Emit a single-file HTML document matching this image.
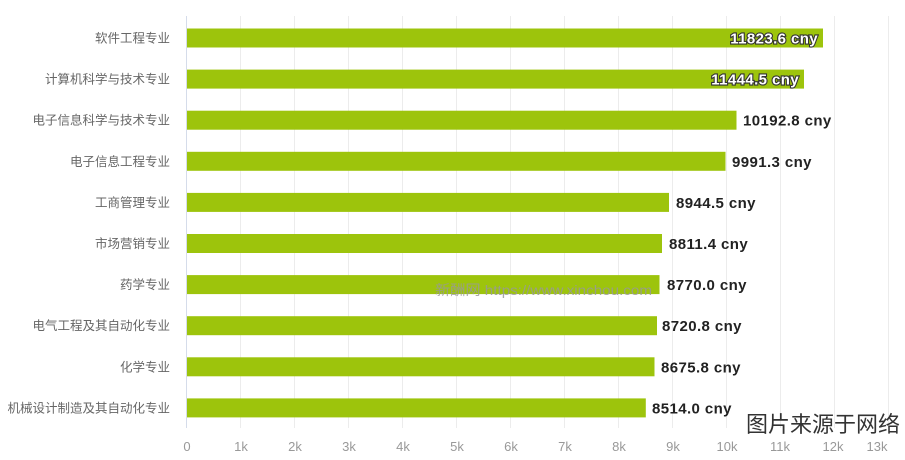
<!DOCTYPE html>
<html><head><meta charset="utf-8"><style>
html,body{margin:0;padding:0;background:#fff;}
svg{display:block;}
text{font-family:"Liberation Sans","Noto Sans CJK SC",sans-serif;}
</style></head><body>
<svg width="905" height="460" viewBox="0 0 905 460" xmlns="http://www.w3.org/2000/svg">
<rect width="905" height="460" fill="#fff"/>
<g stroke="#ececec" stroke-width="1">
<line x1="240.5" y1="16" x2="240.5" y2="428"/>
<line x1="294.5" y1="16" x2="294.5" y2="428"/>
<line x1="348.5" y1="16" x2="348.5" y2="428"/>
<line x1="402.5" y1="16" x2="402.5" y2="428"/>
<line x1="456.5" y1="16" x2="456.5" y2="428"/>
<line x1="510.5" y1="16" x2="510.5" y2="428"/>
<line x1="564.5" y1="16" x2="564.5" y2="428"/>
<line x1="618.5" y1="16" x2="618.5" y2="428"/>
<line x1="672.5" y1="16" x2="672.5" y2="428"/>
<line x1="726.5" y1="16" x2="726.5" y2="428"/>
<line x1="780.5" y1="16" x2="780.5" y2="428"/>
<line x1="834.5" y1="16" x2="834.5" y2="428"/>
<line x1="888.5" y1="16" x2="888.5" y2="428"/>
</g>
<line x1="186.5" y1="16" x2="186.5" y2="428" stroke="#d5dcea" stroke-width="1"/>
<g fill="#9dc40c">
<rect x="187" y="28.5" width="636" height="19"/>
<rect x="187" y="69.6" width="617" height="19"/>
<rect x="187" y="110.7" width="549.5" height="19"/>
<rect x="187" y="151.8" width="538.5" height="19"/>
<rect x="187" y="192.9" width="482" height="19"/>
<rect x="187" y="234" width="475" height="19"/>
<rect x="187" y="275.1" width="472.5" height="19"/>
<rect x="187" y="316.2" width="470" height="19"/>
<rect x="187" y="357.3" width="467.5" height="19"/>
<rect x="187" y="398.4" width="458.8" height="19"/>
</g>
<g font-size="12.5" fill="#666" text-anchor="end">
<text x="170" y="42.5">软件工程专业</text>
<text x="170" y="83.6">计算机科学与技术专业</text>
<text x="170" y="124.7">电子信息科学与技术专业</text>
<text x="170" y="165.8">电子信息工程专业</text>
<text x="170" y="206.9">工商管理专业</text>
<text x="170" y="248">市场营销专业</text>
<text x="170" y="289.1">药学专业</text>
<text x="170" y="330.2">电气工程及其自动化专业</text>
<text x="170" y="371.3">化学专业</text>
<text x="170" y="412.4">机械设计制造及其自动化专业</text>
</g>
<g font-size="15" font-weight="bold" fill="#222" letter-spacing="0.4">
<text x="818" y="43.5" text-anchor="end" fill="#fff" stroke="#333" stroke-width="2.2" paint-order="stroke">11823.6 cny</text>
<text x="799" y="84.6" text-anchor="end" fill="#fff" stroke="#333" stroke-width="2.2" paint-order="stroke">11444.5 cny</text>
<text x="743" y="125.7">10192.8 cny</text>
<text x="732" y="166.8">9991.3 cny</text>
<text x="676" y="207.9">8944.5 cny</text>
<text x="669" y="249">8811.4 cny</text>
<text x="667" y="290.1">8770.0 cny</text>
<text x="662" y="331.2">8720.8 cny</text>
<text x="661" y="372.3">8675.8 cny</text>
<text x="652" y="413.4">8514.0 cny</text>
</g>
<text x="435" y="295" font-size="14" fill="#999" fill-opacity="0.85" textLength="217" lengthAdjust="spacingAndGlyphs">新酬网 https://www.xinchou.com</text>
<g font-size="13" fill="#999" text-anchor="middle">
<text x="187" y="451">0</text>
<text x="241" y="451">1k</text>
<text x="295" y="451">2k</text>
<text x="349" y="451">3k</text>
<text x="403" y="451">4k</text>
<text x="457" y="451">5k</text>
<text x="511" y="451">6k</text>
<text x="565" y="451">7k</text>
<text x="619" y="451">8k</text>
<text x="673" y="451">9k</text>
<text x="727" y="451">10k</text>
<text x="780" y="451">11k</text>
<text x="833" y="451">12k</text>
<text x="877" y="451">13k</text>
</g>
<text x="746" y="432" font-size="22" fill="#333" font-family="'Noto Sans CJK SC',sans-serif">图片来源于网络</text>
</svg>
</body></html>
